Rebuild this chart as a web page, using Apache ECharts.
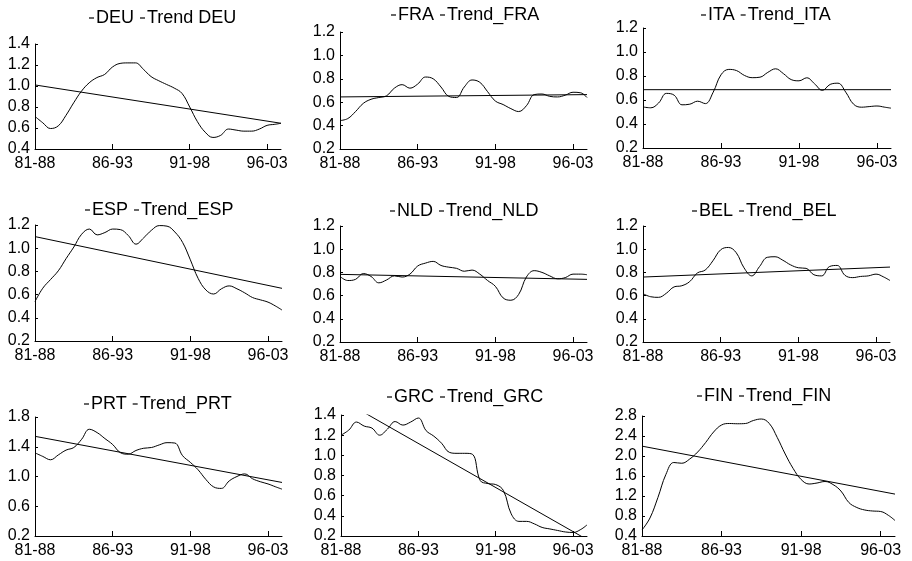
<!DOCTYPE html>
<html>
<head>
<meta charset="utf-8">
<script src="https://cdn.jsdelivr.net/npm/echarts@6/dist/echarts.min.js"></script>
<style>
  html, body { margin: 0; padding: 0; background: #fff; }
  #main { width: 912px; height: 561px; }
</style>
</head>
<body>
<div id="main"></div>
<script>
// x position in years after the 81-88 window (half-year steps)
var t = [0, 0.5, 1, 1.5, 2, 2.5, 3, 3.5, 4, 4.5, 5, 5.5, 6, 6.5, 7, 7.5,
         8, 8.5, 9, 9.5, 10, 10.5, 11, 11.5, 12, 12.5, 13, 13.5, 14, 14.5, 15, 15.5, 15.9];
var tickPos = [0, 5, 10, 15];
var tickLabels = ['81-88', '86-93', '91-98', '96-03'];
var trendX = [0, 15.9];

var deu = [0.71, 0.65, 0.595, 0.62, 0.72, 0.84, 0.95, 1.03, 1.08, 1.11, 1.18, 1.215, 1.22, 1.22, 1.16, 1.09,
           1.05, 1.015, 0.98, 0.93, 0.80, 0.66, 0.56, 0.51, 0.53, 0.59, 0.58, 0.57, 0.57, 0.59, 0.625, 0.635, 0.645];
var deuTrend = [1.01, 0.645];

var fra = [0.443, 0.46, 0.52, 0.59, 0.625, 0.64, 0.655, 0.72, 0.75, 0.72, 0.755, 0.815, 0.80, 0.73, 0.65, 0.64,
           0.73, 0.79, 0.77, 0.69, 0.61, 0.58, 0.545, 0.52, 0.57, 0.665, 0.67, 0.65, 0.645, 0.66, 0.685, 0.68, 0.64];
var fraTrend = [0.645, 0.665];

var ita = [0.542, 0.535, 0.575, 0.655, 0.64, 0.56, 0.565, 0.59, 0.57, 0.665, 0.81, 0.855, 0.845, 0.805, 0.786, 0.79,
           0.83, 0.86, 0.82, 0.77, 0.76, 0.785, 0.735, 0.68, 0.73, 0.74, 0.665, 0.565, 0.54, 0.545, 0.55, 0.54, 0.532];
var itaTrend = [0.686, 0.686];

var esp = [0.54, 0.655, 0.73, 0.805, 0.91, 1.01, 1.12, 1.165, 1.115, 1.135, 1.165, 1.16, 1.11, 1.035, 1.09, 1.155,
           1.195, 1.19, 1.14, 1.05, 0.90, 0.74, 0.64, 0.605, 0.65, 0.675, 0.65, 0.615, 0.575, 0.555, 0.535, 0.50, 0.467];
var espTrend = [1.10, 0.654];

var nld = [0.766, 0.73, 0.74, 0.79, 0.765, 0.71, 0.735, 0.77, 0.76, 0.785, 0.855, 0.88, 0.895, 0.86, 0.845, 0.835,
           0.81, 0.82, 0.785, 0.73, 0.68, 0.58, 0.56, 0.61, 0.76, 0.815, 0.80, 0.77, 0.745, 0.755, 0.785, 0.785, 0.78];
var nldTrend = [0.783, 0.74];

var bel = [0.617, 0.59, 0.585, 0.62, 0.675, 0.685, 0.72, 0.795, 0.82, 0.90, 0.995, 1.015, 0.97, 0.84, 0.77, 0.85,
           0.93, 0.935, 0.905, 0.865, 0.84, 0.835, 0.78, 0.77, 0.85, 0.86, 0.775, 0.755, 0.765, 0.77, 0.785, 0.76, 0.73];
var belTrend = [0.76, 0.846];

var prt = [1.318, 1.27, 1.225, 1.29, 1.355, 1.39, 1.50, 1.635, 1.59, 1.51, 1.43, 1.32, 1.30, 1.35, 1.38, 1.39,
           1.425, 1.455, 1.45, 1.28, 1.19, 1.09, 0.96, 0.86, 0.84, 0.94, 1.00, 1.035, 0.97, 0.93, 0.90, 0.86, 0.83];
var prtTrend = [1.54, 0.92];

var grc = [1.20, 1.25, 1.33, 1.29, 1.27, 1.20, 1.26, 1.335, 1.30, 1.33, 1.37, 1.245, 1.19, 1.12, 1.03, 1.02,
           1.02, 1.01, 0.75, 0.72, 0.71, 0.65, 0.42, 0.345, 0.345, 0.32, 0.285, 0.27, 0.255, 0.24, 0.235, 0.265, 0.31];
var grcTrend = [1.555, 0.165];

var fin = [0.52, 0.76, 1.17, 1.63, 1.87, 1.855, 1.94, 2.08, 2.27, 2.48, 2.62, 2.65, 2.645, 2.65, 2.71, 2.74,
           2.65, 2.37, 2.04, 1.75, 1.53, 1.44, 1.46, 1.49, 1.43, 1.30, 1.07, 0.97, 0.92, 0.90, 0.89, 0.81, 0.71];
var finTrend = [2.197, 1.238];

var names = ['DEU', 'FRA', 'ITA', 'ESP', 'NLD', 'BEL', 'PRT', 'GRC', 'FIN'];
var trendNames = ['Trend DEU', 'Trend_FRA', 'Trend_ITA', 'Trend_ESP', 'Trend_NLD', 'Trend_BEL', 'Trend_PRT', 'Trend_GRC', 'Trend_FIN'];
var series = [deu, fra, ita, esp, nld, bel, prt, grc, fin];
var trends = [deuTrend, fraTrend, itaTrend, espTrend, nldTrend, belTrend, prtTrend, grcTrend, finTrend];
var yMin = [0.4, 0.2, 0.2, 0.2, 0.2, 0.2, 0.2, 0.2, 0.4];
var yMax = [1.4, 1.2, 1.2, 1.2, 1.2, 1.2, 1.8, 1.4, 2.8];
var yStep = [0.2, 0.2, 0.2, 0.2, 0.2, 0.2, 0.4, 0.2, 0.4];

// layout: grid [left, top, width, height], legend centre [x, y]
var grids = [
  [35, 44, 246, 105], [340, 32, 247, 117], [643, 28, 248, 120],
  [35, 225, 247, 116], [340, 226, 247, 116], [643, 226, 247, 116],
  [35, 417, 247, 119], [341, 415, 246, 121], [642, 416, 253, 120]
];
var legendPos = [
  [163, 19], [465, 16], [766, 16],
  [159, 211], [464, 212], [764, 212],
  [158, 405], [465, 398], [764, 397]
];

var FONT = "'Liberation Sans', Arial, Helvetica, sans-serif";
var ctx = document.createElement('canvas').getContext('2d');
ctx.font = '18px ' + FONT;
function textW(s) { return ctx.measureText(s).width; }

var option = {
  animation: false,
  backgroundColor: '#fff',
  textStyle: { fontFamily: FONT, color: '#000' },
  grid: [], xAxis: [], yAxis: [], legend: [], series: []
};

for (var i = 0; i < names.length; i++) {
  var g = grids[i];
  option.grid.push({ left: g[0], top: g[1], width: g[2], height: g[3] });

  option.xAxis.push({
    type: 'value', gridIndex: i, min: 0, max: 15.9,
    axisLine: { show: true, lineStyle: { color: '#000', width: 1 } },
    axisTick: { show: true, inside: true, length: 5, customValues: tickPos, lineStyle: { color: '#000' } },
    axisLabel: {
      customValues: tickPos, margin: 7, fontSize: 16, color: '#000', fontFamily: FONT,
      formatter: function (v) { var k = tickPos.indexOf(v); return k >= 0 ? tickLabels[k] : ''; }
    },
    splitLine: { show: false }
  });

  option.yAxis.push({
    type: 'value', gridIndex: i, min: yMin[i], max: yMax[i], interval: yStep[i],
    axisLine: { show: true, lineStyle: { color: '#000', width: 1 } },
    axisTick: { show: true, inside: true, length: 3, lineStyle: { color: '#000' } },
    axisLabel: { margin: 5, fontSize: 16, color: '#000', fontFamily: FONT,
      formatter: function (v) { return v.toFixed(1); } },
    splitLine: { show: false }
  });

  var lp = legendPos[i];
  var w = 2 * (5 + 2) + textW(names[i]) + textW(trendNames[i]) + 6;
  option.legend.push({
    data: [names[i], trendNames[i]],
    left: Math.round(lp[0] - w / 2), top: lp[1] - 10,
    padding: 0, itemGap: 6, itemWidth: 5, itemHeight: 1.2, icon: 'rect',
    textStyle: { fontSize: 18, color: '#000', fontFamily: FONT, padding: [0, 0, 0, -3] }
  });

  option.series.push({
    name: names[i], type: 'line', xAxisIndex: i, yAxisIndex: i,
    data: t.map(function (x, k) { return [x, this[k]]; }, series[i]),
    smooth: 0.4, symbol: 'none', color: '#000',
    lineStyle: { color: '#000', width: 1 }
  });
  option.series.push({
    name: trendNames[i], type: 'line', xAxisIndex: i, yAxisIndex: i,
    data: trendX.map(function (x, k) { return [x, this[k]]; }, trends[i]),
    symbol: 'none', color: '#000', clip: true,
    lineStyle: { color: '#000', width: 1 }
  });
}

var myChart = echarts.init(document.getElementById('main'));
myChart.setOption(option);
</script>
</body>
</html>
